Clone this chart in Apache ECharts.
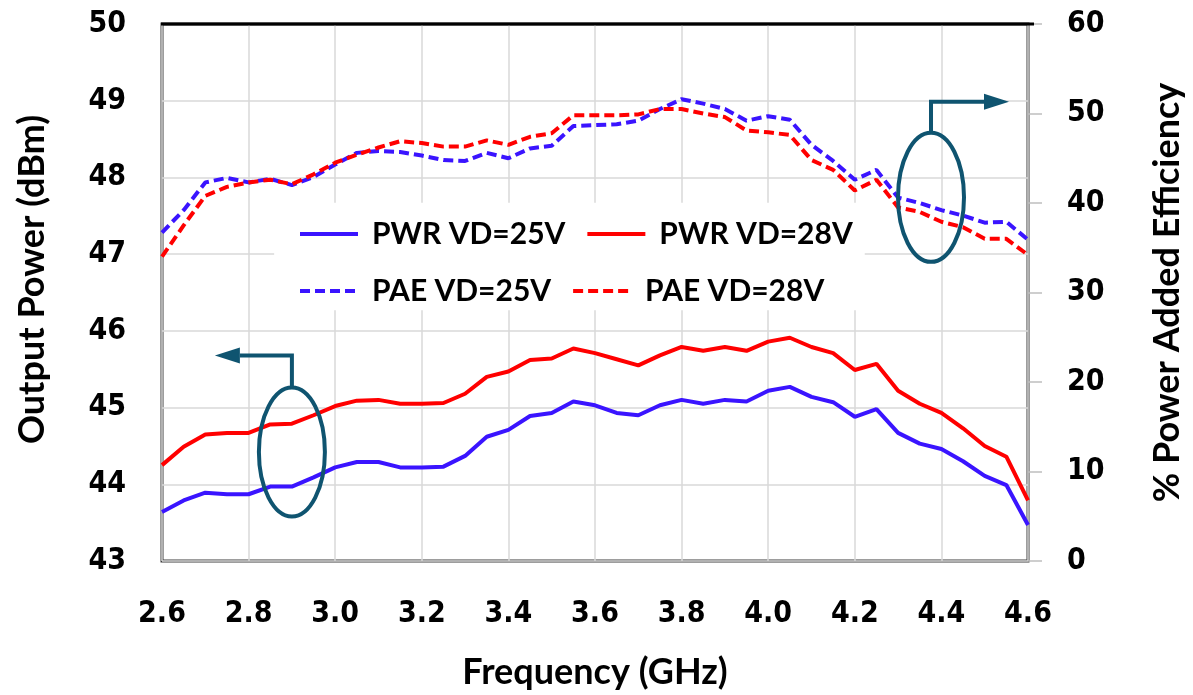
<!DOCTYPE html>
<html>
<head>
<meta charset="utf-8">
<script src="https://cdn.jsdelivr.net/npm/echarts@6/dist/echarts.min.js"></script>
<style>
  html, body { margin: 0; padding: 0; background: #fff; }
  #chart { width: 1193px; height: 695px; }
</style>
</head>
<body>
<div id="chart"></div>
<script>
// Frequency sweep (GHz)
const freqGHz = [2.60, 2.65, 2.70, 2.75, 2.80, 2.85, 2.90, 2.95, 3.00, 3.05,
                 3.10, 3.15, 3.20, 3.25, 3.30, 3.35, 3.40, 3.45, 3.50, 3.55,
                 3.60, 3.65, 3.70, 3.75, 3.80, 3.85, 3.90, 3.95, 4.00, 4.05,
                 4.10, 4.15, 4.20, 4.25, 4.30, 4.35, 4.40, 4.45, 4.50, 4.55, 4.60];

// Output power (dBm)
const pwrVd25 = [43.64, 43.79, 43.89, 43.87, 43.87, 43.97, 43.97, 44.09, 44.22, 44.29,
                 44.29, 44.22, 44.22, 44.23, 44.37, 44.62, 44.71, 44.89, 44.93, 45.08,
                 45.03, 44.93, 44.90, 45.03, 45.10, 45.05, 45.10, 45.08, 45.22, 45.27,
                 45.14, 45.07, 44.88, 44.98, 44.67, 44.53, 44.46, 44.30, 44.11, 43.99, 43.47];
const pwrVd28 = [44.25, 44.49, 44.65, 44.67, 44.67, 44.78, 44.79, 44.90, 45.02, 45.09,
                 45.10, 45.05, 45.05, 45.06, 45.18, 45.40, 45.47, 45.62, 45.64, 45.77,
                 45.71, 45.63, 45.55, 45.68, 45.79, 45.74, 45.79, 45.74, 45.86, 45.91,
                 45.79, 45.71, 45.49, 45.57, 45.22, 45.05, 44.93, 44.73, 44.50, 44.36, 43.79];

// Power added efficiency (%)
const paeVd25 = [36.7, 39.2, 42.3, 42.8, 42.3, 42.7, 42.0, 42.9, 44.3, 45.6,
                 45.8, 45.7, 45.3, 44.8, 44.7, 45.6, 45.0, 46.1, 46.4, 48.6,
                 48.7, 48.8, 49.2, 50.5, 51.6, 51.1, 50.5, 49.2, 49.7, 49.3,
                 46.5, 44.7, 42.6, 43.7, 40.6, 40.0, 39.2, 38.6, 37.8, 37.9, 35.9];
const paeVd28 = [34.0, 37.5, 40.8, 41.8, 42.3, 42.6, 42.1, 43.2, 44.5, 45.4,
                 46.2, 46.9, 46.7, 46.3, 46.3, 47.0, 46.5, 47.4, 47.8, 49.8,
                 49.8, 49.8, 49.9, 50.5, 50.5, 50.0, 49.6, 48.1, 47.9, 47.6,
                 44.8, 43.7, 41.4, 42.6, 39.5, 39.0, 37.9, 37.3, 36.0, 36.0, 34.2];

const names = ['PWR VD=25V', 'PWR VD=28V', 'PAE VD=25V', 'PAE VD=28V'];

const BLUE = '#3a14ff';
const RED = '#ff0000';
const TEAL = '#0f5470';
const tickFont = { fontFamily: '"DejaVu Sans Condensed", "DejaVu Sans", sans-serif', fontWeight: 'bold', fontSize: 30, color: '#000' };
const titleFont = (size, extra) => Object.assign({ fontFamily: 'Lato, "Open Sans", sans-serif', fontWeight: 'bold', fontSize: size, color: '#000' }, extra || {});

const pairs = ys => freqGHz.map((f, i) => [f, ys[i]]);

const chart = echarts.init(document.getElementById('chart'), null, { renderer: 'canvas' });

const legendText = {
  fontFamily: 'Lato, "Open Sans", sans-serif', fontWeight: 'bold', fontSize: 30,
  color: '#000', width: 203, padding: [0, 0, 0, 9]
};
const legendBase = {
  left: 293, itemWidth: 58, itemHeight: 14, itemGap: 20,
  itemStyle: { opacity: 0 }, lineStyle: { width: 4 },
  textStyle: legendText, selectedMode: false
};

chart.setOption({
  animation: false,
  backgroundColor: '#fff',
  grid: { left: 162, right: 160, top: 24, bottom: 127, show: true, borderColor: '#3c3c3c', borderWidth: 3, backgroundColor: 'transparent' },
  legend: [
    Object.assign({ data: [names[0], names[1]], top: 214 }, legendBase),
    Object.assign({ data: [names[2], names[3]], top: 271 }, legendBase)
  ],
  xAxis: {
    type: 'value', min: 2.6, max: 4.6, interval: 0.2,
    name: 'Frequency (GHz)', nameLocation: 'middle', nameGap: 93, nameTextStyle: titleFont(36),
    axisLine: { show: false }, axisTick: { show: false },
    axisLabel: Object.assign({ margin: 38, formatter: v => v.toFixed(1) }, tickFont),
    splitLine: { show: true, lineStyle: { color: '#d9d9d9', width: 1.5 } }
  },
  yAxis: [
    {
      type: 'value', min: 43, max: 50, interval: 1, position: 'left',
      name: 'Output Power (dBm)', nameLocation: 'middle', nameGap: 112, nameRotate: 90,
      nameTextStyle: titleFont(36, { padding: [0, 0, 0, 26] }),
      axisLine: { show: false }, axisTick: { show: false },
      axisLabel: Object.assign({ margin: 36 }, tickFont),
      splitLine: { show: true, lineStyle: { color: '#d9d9d9', width: 1.5 } }
    },
    {
      type: 'value', min: 0, max: 60, interval: 10, position: 'right',
      name: '% Power Added Efficiency', nameLocation: 'middle', nameGap: 121, nameRotate: 90, nameTextStyle: titleFont(36),
      axisLine: { show: false },
      axisTick: { show: true, inside: false, length: 14, lineStyle: { color: '#bfbfbf', width: 1.5 } },
      axisLabel: Object.assign({ margin: 39 }, tickFont),
      splitLine: { show: false }
    }
  ],
  series: [
    { name: names[0], type: 'line', yAxisIndex: 0, data: pairs(pwrVd25), symbol: 'none',
      lineStyle: { color: BLUE, width: 4 }, itemStyle: { color: BLUE } },
    { name: names[1], type: 'line', yAxisIndex: 0, data: pairs(pwrVd28), symbol: 'none',
      lineStyle: { color: RED, width: 4 }, itemStyle: { color: RED } },
    { name: names[2], type: 'line', yAxisIndex: 1, data: pairs(paeVd25), symbol: 'none',
      lineStyle: { color: BLUE, width: 4, type: [10, 5] }, itemStyle: { color: BLUE } },
    { name: names[3], type: 'line', yAxisIndex: 1, data: pairs(paeVd28), symbol: 'none',
      lineStyle: { color: RED, width: 4, type: [10, 5] }, itemStyle: { color: RED } }
  ]
});

// Annotations: an ellipse around each group of curves with an elbow arrow
// pointing to the axis that group is read against, plus the legend's white box.
function annotations() {
  const toPx = p => chart.convertToPixel({ xAxisIndex: 0, yAxisIndex: 0 }, p);
  const leftC = toPx([2.9, 44.42]);
  const rightC = toPx([4.376, 47.74]);
  const boxTL = toPx([2.859, 47.67]);
  const boxBR = toPx([4.223, 46.27]);
  const rx = 33, ry = 64.5;
  const stroke = { stroke: TEAL, lineWidth: 4, fill: null };
  const lx = leftC[0], ly = leftC[1], rX = rightC[0], rY = rightC[1];
  return [
    { type: 'rect', z: 1, silent: true,
      shape: { x: boxTL[0], y: boxTL[1], width: boxBR[0] - boxTL[0], height: boxBR[1] - boxTL[1] },
      style: { fill: '#fff' } },
    { type: 'ellipse', z: 10, shape: { cx: lx, cy: ly, rx: rx, ry: ry }, style: stroke },
    { type: 'polyline', z: 10, shape: { points: [[lx, ly - ry], [lx, ly - ry - 32], [lx - 52, ly - ry - 32]] }, style: stroke },
    { type: 'polygon', z: 10, shape: { points: [[lx - 77, ly - ry - 32], [lx - 52, ly - ry - 40], [lx - 52, ly - ry - 24]] }, style: { fill: TEAL } },
    { type: 'ellipse', z: 10, shape: { cx: rX, cy: rY, rx: rx, ry: ry }, style: stroke },
    { type: 'polyline', z: 10, shape: { points: [[rX, rY - ry], [rX, rY - ry - 31], [rX + 53, rY - ry - 31]] }, style: stroke },
    { type: 'polygon', z: 10, shape: { points: [[rX + 78, rY - ry - 31], [rX + 53, rY - ry - 39], [rX + 53, rY - ry - 23]] }, style: { fill: TEAL } },
    // black top edge of the plot frame
    { type: 'line', z: 10, shape: { x1: 161, y1: 24, x2: 1034, y2: 24 }, style: { stroke: '#000', lineWidth: 3 } }
  ];
}
chart.setOption({ graphic: annotations() });
</script>
</body>
</html>
